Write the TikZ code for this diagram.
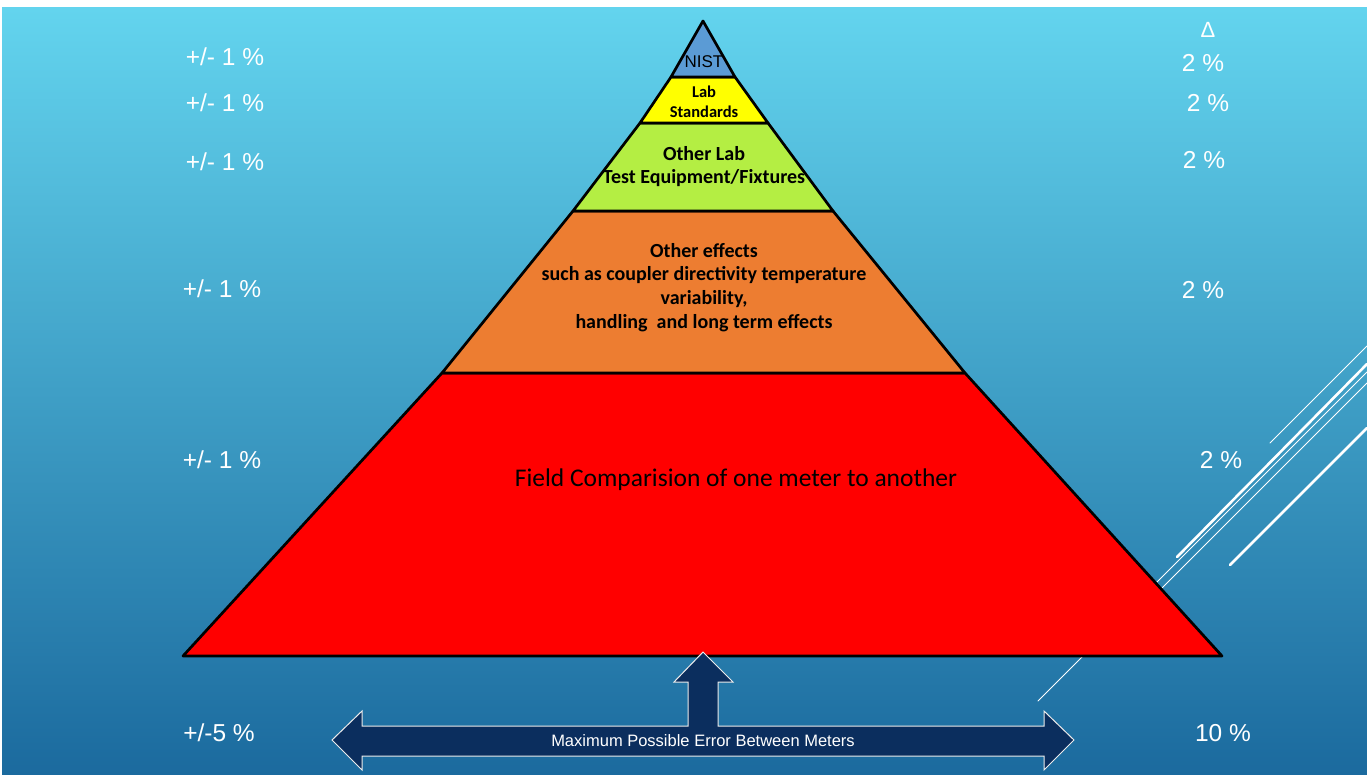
\documentclass[tikz,border=0pt]{standalone}
\usepackage{fontspec}
\setmainfont{Liberation Sans}
\newfontfamily\calibri{Carlito}
\definecolor{bgtop}{HTML}{63D4EE}
\definecolor{bgbottom}{HTML}{1B6A9E}
\definecolor{nistblue}{HTML}{5B9BD5}
\definecolor{labyellow}{HTML}{FFFF00}
\definecolor{labgreen}{HTML}{B4EE43}
\definecolor{effectorange}{HTML}{ED7D31}
\definecolor{fieldred}{HTML}{FF0000}
\definecolor{arrownavy}{HTML}{0B2E5E}

\begin{document}
\begin{tikzpicture}[x=1pt,y=-1pt,
    layer/.style={draw=black, line width=2.7pt, line join=round},
    val/.style={text=white, font=\fontsize{24.5}{28}\selectfont},
    tier/.style={align=center, font=\calibri\bfseries\fontsize{20}{23.7}\selectfont},
    deco/.style={white, line cap=round}]
    \useasboundingbox (0,0) rectangle (1367,775);
    \fill[white] (0,0) rectangle (1367,775);
    \shade[top color=bgtop, bottom color=bgbottom] (2,8) rectangle (1367,775);

% white strokes on the right
\draw[deco, line width=1pt] (1270,443) -- (1367,346);
\draw[deco, line width=2.6pt] (1177,557) -- (1367,364);
\draw[deco, line width=1pt] (1038,701) -- (1367,372);
\draw[deco, line width=1pt] (1150,600) -- (1367,383);
\draw[deco, line width=2.6pt] (1230,565) -- (1367,428);

% pyramid levels
\coordinate (top) at (703,21);
\coordinate (l1) at (671,77);  \coordinate (r1) at (735,77);
\coordinate (l2) at (640,123); \coordinate (r2) at (768,123);
\coordinate (l3) at (573,211); \coordinate (r3) at (833,211);
\coordinate (l4) at (442,373); \coordinate (r4) at (965,373);
\coordinate (l5) at (183,656); \coordinate (r5) at (1222,656);

\draw[layer, fill=fieldred] (l4) -- (r4) -- (r5) -- (l5) -- cycle;
\draw[layer, fill=effectorange] (l3) -- (r3) -- (r4) -- (l4) -- cycle;
\draw[layer, fill=labgreen] (l2) -- (r2) -- (r3) -- (l3) -- cycle;
\draw[layer, fill=labyellow] (l1) -- (r1) -- (r2) -- (l2) -- cycle;
\draw[layer, fill=nistblue] (top) -- (r1) -- (l1) -- cycle;

\node (nist) at (704,62) [font=\fontsize{17}{20}\selectfont] {NIST};
\node (lab) at (704,102) [tier, font=\calibri\bfseries\fontsize{16.5}{20}\selectfont] {Lab\\Standards};
\node (other) at (704,166.5) [tier] {Other Lab\\Test Equipment/Fixtures};
\node (effects) at (704,287.5) [tier] {Other effects\\such as coupler directivity temperature\\variability,\\handling\ \ and long term effects};
\node (field) at (736,480) [font=\calibri\fontsize{25.5}{30}\selectfont] {Field Comparision of one meter to another};

% tolerances
\node[val] (tolA) at (225,57) {+/- 1 \%};
\node[val] (tolB) at (225,103) {+/- 1 \%};
\node[val] (tolC) at (225,162) {+/- 1 \%};
\node[val] (tolD) at (222,289) {+/- 1 \%};
\node[val] (tolE) at (222,460) {+/- 1 \%};
\node[val] (tolSum) at (219,733) {+/-5 \%};

\node[val, font=\fontsize{22}{26}\selectfont] (delta) at (1208,30) {Δ};
\node[val] (dA) at (1203,63) {2 \%};
\node[val] (dB) at (1208,103) {2 \%};
\node[val] (dC) at (1204,160) {2 \%};
\node[val] (dD) at (1203,290) {2 \%};
\node[val] (dE) at (1221,460) {2 \%};
\node[val] (dSum) at (1223,733) {10 \%};

% error arrow
\draw[draw=white!85!gray, line width=1pt, fill=arrownavy, line join=miter]
    (332,740) -- (362,711) -- (362,726) -- (688,726) -- (688,682) -- (674,682)
    -- (703,652) -- (733,682) -- (718,682) -- (718,726) -- (1044,726)
    -- (1044,711) -- (1074,740) -- (1044,770) -- (1044,756) -- (362,756)
    -- (362,770) -- cycle;
\node (maxerr) at (703,741) [text=white, font=\fontsize{16.5}{19}\selectfont] {Maximum Possible Error Between Meters};
  \end{tikzpicture}
\end{document}
